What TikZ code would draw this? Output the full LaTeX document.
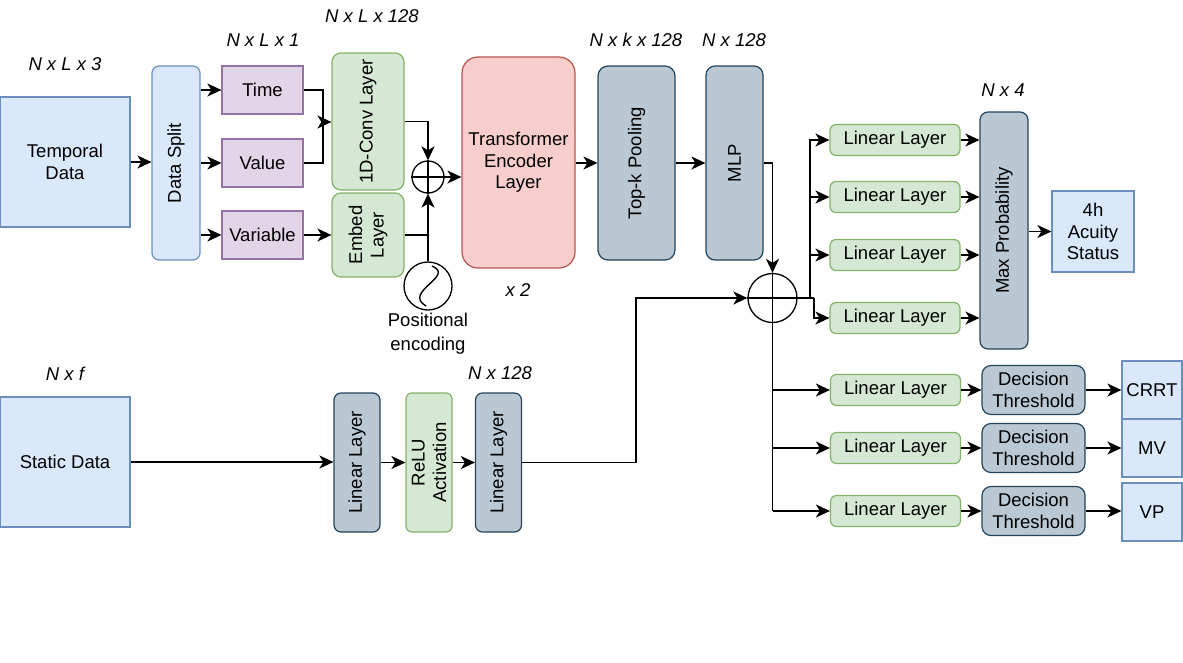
\documentclass[tikz,border=0pt]{standalone}
\usepackage{fontspec}
\setmainfont{Liberation Sans}
\usetikzlibrary{arrows.meta,calc}
\definecolor{bluef}{HTML}{DAE8FC}\definecolor{blued}{HTML}{6C8EBF}
\definecolor{purf}{HTML}{E1D5E7}\definecolor{purd}{HTML}{9673A6}
\definecolor{grnf}{HTML}{D5E8D4}\definecolor{grnd}{HTML}{82B366}
\definecolor{redf}{HTML}{F8CECC}\definecolor{redd}{HTML}{B85450}
\definecolor{gryf}{HTML}{BAC8D3}\definecolor{gryd}{HTML}{23445D}
\newcommand\fsz{\fontsize{18.5}{21.5}\selectfont}
\begin{document}
\begin{tikzpicture}[x=1pt,y=-1pt,
  box/.style={draw, line width=1.2pt, inner sep=0pt, align=center, font=\fsz},
  bluebox/.style={box, fill=bluef, draw=blued},
  purbox/.style={box, fill=purf, draw=purd},
  grnbox/.style={box, fill=grnf, draw=grnd, rounded corners=6pt},
  grybox/.style={box, fill=gryf, draw=gryd, rounded corners=7pt},
  redbox/.style={box, fill=redf, draw=redd, rounded corners=16pt},
  rl/.style={label={[rotate=90,align=center,font=\fsz]center:#1}},
  dim/.style={font=\fsz\itshape, inner sep=0pt},
  wh/.style 2 args={minimum width=#1pt, minimum height=#2pt},
  arr/.style={line width=1.6pt, -{Stealth[length=14pt,width=13pt,inset=4pt]}},
  ln/.style={line width=1.6pt},
  circ/.style={draw, circle, line width=1.3pt, fill=white, inner sep=0pt}
]
\useasboundingbox (0,0) rectangle (1183,662);

% dimension labels
\node[dim] (d1) at (65,64) {N x L x 3};
\node[dim] (d2) at (263,40) {N x L x 1};
\node[dim] (d3) at (372,16) {N x L x 128};
\node[dim] (d4) at (636,40) {N x k x 128};
\node[dim] (d5) at (734,40) {N x 128};
\node[dim] (d6) at (1003,90) {N x 4};
\node[dim] (d7) at (65,374) {N x f};
\node[dim] (d8) at (500,373) {N x 128};
\node[dim] (x2) at (518,290) {x 2};

% temporal branch
\node[bluebox, wh={130}{130}] (temporal) at (65,162) {Temporal\\Data};
\node[bluebox, rounded corners=7pt, wh={48}{194}, rl={Data Split}] (split) at (176,163) {};
\node[purbox, wh={81}{48}] (time) at (262.5,90) {Time};
\node[purbox, wh={81}{48}] (value) at (262.5,163) {Value};
\node[purbox, wh={81}{48}] (variable) at (262.5,235) {Variable};
\node[grnbox, rounded corners=9pt, wh={72}{137}, rl={1D-Conv Layer}] (conv) at (368,121.5) {};
\node[grnbox, rounded corners=9pt, wh={72}{84}, rl={Embed\\Layer}] (embed) at (368,235) {};
\node[circ, minimum size=32pt] (plus) at (428,177) {};
\draw[line width=1.3pt] (plus.north) -- (plus.south) (plus.west) -- (plus.east);
\node[circ, minimum size=48pt] (sine) at (428,286) {};
\draw[line width=1.4pt] (432,266) .. controls (456,276) and (402,292) .. (426,306);
\node[font=\fontsize{18.5}{24}\selectfont, align=center, inner sep=0pt] (posenc) at (428,334) {Positional\\encoding};
\node[redbox, wh={113}{211}] (trans) at (518.5,162.5) {Transformer\\Encoder\\Layer};
\node[grybox, rounded corners=10pt, wh={77}{194}, rl={Top-k Pooling}] (topk) at (636.5,163) {};
\node[grybox, rounded corners=9pt, wh={57}{194}, rl={MLP}] (mlp) at (734.5,163) {};
\node[circ, minimum size=49pt] (bigplus) at (772.5,298) {};
\draw[line width=1.3pt] (bigplus.north) -- (bigplus.south) (bigplus.west) -- (bigplus.east);

% static branch
\node[bluebox, wh={130}{130}] (static) at (65,462) {Static Data};
\node[grybox, wh={46}{139}, rl={Linear Layer}] (sl1) at (357,462.5) {};
\node[grnbox, wh={46}{139}, rl={ReLU\\Activation}] (relu) at (429,462.5) {};
\node[grybox, wh={46}{139}, rl={Linear Layer}] (sl2) at (498.5,462.5) {};

% heads
\node[grnbox, wh={130}{31}] (ll1) at (895,140) {Linear Layer};
\node[grnbox, wh={130}{31}] (ll2) at (895,197) {Linear Layer};
\node[grnbox, wh={130}{31}] (ll3) at (895,255) {Linear Layer};
\node[grnbox, wh={130}{31}] (ll4) at (895,318) {Linear Layer};
\node[grybox, rounded corners=8pt, wh={48}{237}, rl={Max Probability}] (maxp) at (1004,230.5) {};
\node[bluebox, wh={82}{81}] (acuity) at (1093,231.5) {4h\\Acuity\\Status};
\node[grnbox, wh={130}{31}] (ll5) at (895.5,390) {Linear Layer};
\node[grnbox, wh={130}{31}] (ll6) at (895.5,448) {Linear Layer};
\node[grnbox, wh={130}{31}] (ll7) at (895.5,511) {Linear Layer};
\node[grybox, rounded corners=9pt, wh={103}{49}] (dt1) at (1033.5,390) {Decision\\Threshold};
\node[grybox, rounded corners=9pt, wh={103}{49}] (dt2) at (1033.5,448) {Decision\\Threshold};
\node[grybox, rounded corners=9pt, wh={103}{49}] (dt3) at (1033.5,511) {Decision\\Threshold};
\node[bluebox, wh={60}{58}] (crrt) at (1152,390) {CRRT};
\node[bluebox, wh={60}{58}] (mv) at (1152,448) {MV};
\node[bluebox, wh={60}{58}] (vp) at (1152,512) {VP};

% connectors: temporal
\draw[arr] (temporal.east) -- (temporal.east -| split.west);
\draw[arr] (split.east |- time) -- (time.west);
\draw[arr] (split.east |- value) -- (value.west);
\draw[arr] (split.east |- variable) -- (variable.west);
\coordinate (j1) at (323,122);
\draw[ln] (time.east) -| (j1);
\draw[ln] (value.east) -| (j1);
\draw[arr] (j1) -- (j1 -| conv.west);
\draw[arr] (variable.east) -- (embed.west);
\draw[arr] (conv.east) -| (plus.north);
\draw[ln] (embed.east) -- (embed.east -| sine.north);
\draw[arr] (sine.north) -- (plus.south);
\draw[arr] (plus.east) -- (plus.east -| trans.west);
\draw[arr] (trans.east |- topk) -- (topk.west);
\draw[arr] (topk.east) -- (mlp.west);
\draw[arr] (mlp.east) -| (bigplus.north);

% static
\draw[arr] (static.east) -- (static.east -| sl1.west);
\draw[arr] (sl1.east) -- (relu.west);
\draw[arr] (relu.east) -- (sl2.west);
\coordinate (j2) at (636,298);
\draw[arr] (sl2.east) -| (j2) -- (bigplus.west);

% heads
\coordinate (b1) at (810,298);
\coordinate (b4) at (814,298);
\draw[ln] (bigplus.east) -- (b4);
\draw[arr] (b1) |- (ll1.west);
\draw[arr] (b1 |- ll2) -- (ll2.west);
\draw[arr] (b1 |- ll3) -- (ll3.west);
\draw[arr] (b4) |- (ll4.west);
\draw[arr] (ll1.east) -- (ll1.east -| maxp.west);
\draw[arr] (ll2.east) -- (ll2.east -| maxp.west);
\draw[arr] (ll3.east) -- (ll3.east -| maxp.west);
\draw[arr] (ll4.east) -- (ll4.east -| maxp.west);
\draw[arr] (maxp.east |- acuity) -- (acuity.west);
\coordinate (t1) at (772.5,390);
\coordinate (t2) at (772.5,448);
\coordinate (t3) at (772.5,511);
\draw[ln] (bigplus.south) -- (t3);
\draw[arr] (t1) -- (ll5.west);
\draw[arr] (t2) -- (ll6.west);
\draw[arr] (t3) -- (ll7.west);
\draw[arr] (ll5.east) -- (dt1.west);
\draw[arr] (ll6.east) -- (dt2.west);
\draw[arr] (ll7.east) -- (dt3.west);
\draw[arr] (dt1.east) -- (crrt.west);
\draw[arr] (dt2.east) -- (mv.west);
\draw[arr] (dt3.east) -- (dt3.east -| vp.west);
\end{tikzpicture}
\end{document}
